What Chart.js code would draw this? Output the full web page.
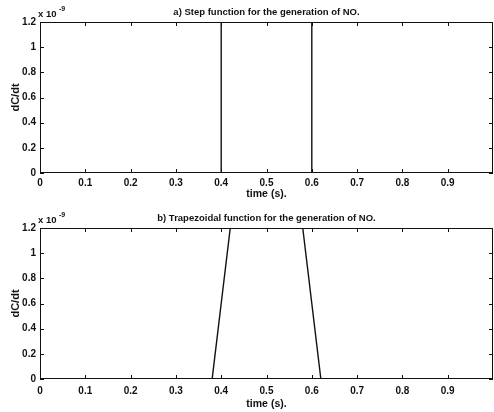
<!DOCTYPE html>
<html>
<head>
<meta charset="utf-8">
<script src="https://cdn.jsdelivr.net/npm/chart.js@4.4.1/dist/chart.umd.min.js"></script>
<style>
  body { margin: 0; background: #fff; }
  .box { position: absolute; left: 0; width: 494px; height: 206px; }
</style>
</head>
<body>
<div class="box" style="top:0"><canvas id="stepChart" width="494" height="206"></canvas></div>
<div class="box" style="top:206px"><canvas id="trapChart" width="494" height="206"></canvas></div>
<script>
// values in units of 1e-9 (the "x 10^-9" factor is printed above the axis)
var timeStep = [0, 0.4, 0.4, 0.6, 0.6, 1.0];
var rateStep = [0, 0, 1.2, 1.2, 0, 0];
var timeTrap = [0, 0.38, 0.42, 0.58, 0.62, 1.0];
var rateTrap = [0, 0, 1.2, 1.2, 0, 0];
var xTickLabels = [0, 0.1, 0.2, 0.3, 0.4, 0.5, 0.6, 0.7, 0.8, 0.9];

var ink = '#111';
var fontFam = '"Liberation Sans", Arial, sans-serif';

// matlab style box with inward ticks, title and exponent text
var boxPlugin = {
  id: 'box',
  afterDraw: function(chart, args, opts) {
    var ctx = chart.ctx, a = chart.chartArea;
    var xs = chart.scales.x, ys = chart.scales.y;
    ctx.save();
    ctx.strokeStyle = ink;
    ctx.lineWidth = 1;
    ctx.strokeRect(a.left + 0.5, a.top + 0.5, a.right - a.left - 1, a.bottom - a.top - 1);
    ctx.beginPath();
    xs.ticks.forEach(function(t) {
      var px = Math.round(xs.getPixelForValue(t.value)) + 0.5;
      ctx.moveTo(px, a.bottom); ctx.lineTo(px, a.bottom - 4);
      ctx.moveTo(px, a.top); ctx.lineTo(px, a.top + 4);
    });
    ys.ticks.forEach(function(t) {
      var py = Math.round(ys.getPixelForValue(t.value)) + 0.5;
      ctx.moveTo(a.left, py); ctx.lineTo(a.left + 4, py);
      ctx.moveTo(a.right, py); ctx.lineTo(a.right - 4, py);
    });
    ctx.stroke();
    ctx.fillStyle = ink;
    ctx.font = 'bold 9.5px ' + fontFam;
    ctx.textAlign = 'center';
    ctx.textBaseline = 'middle';
    ctx.fillText(opts.title, (a.left + a.right) / 2, opts.titleY);
    ctx.textAlign = 'left';
    ctx.fillText('x 10', a.left - 2, a.top - 8);
    ctx.font = 'bold 7px ' + fontFam;
    ctx.fillText('-9', a.left + 19, a.top - 13);
    ctx.restore();
  }
};

function makeChart(id, xs, ys, title, tickPad, axisH, padBottom) {
  var pts = xs.map(function(x, i) { return {x: x, y: ys[i]}; });
  return new Chart(document.getElementById(id), {
    type: 'scatter',
    data: {
      datasets: [{
        data: pts,
        showLine: true,
        borderColor: ink,
        borderWidth: 1.4,
        pointRadius: 0,
        tension: 0
      }]
    },
    plugins: [boxPlugin],
    options: {
      responsive: false,
      animation: false,
      events: [],
      layout: { padding: { top: 22, left: 9, right: 1, bottom: padBottom } },
      plugins: {
        legend: { display: false },
        tooltip: { enabled: false },
        box: { title: title, titleY: 12 }
      },
      scales: {
        x: {
          type: 'linear',
          min: 0, max: 1,
          grid: { display: false, drawTicks: false },
          border: { display: false },
          afterBuildTicks: function(s) {
            s.ticks = xTickLabels.map(function(v) { return {value: v}; });
          },
          afterFit: function(s) { s.height = axisH; },
          ticks: {
            padding: tickPad, maxRotation: 0, autoSkip: false,
            color: ink, font: { family: fontFam, size: 10, weight: 'bold' },
            callback: function(v) { return String(+v.toFixed(1)); }
          },
          title: {
            display: true, text: 'time (s).', color: ink,
            padding: { top: 0, bottom: 0 },
            font: { family: fontFam, size: 10.5, weight: 'bold' }
          }
        },
        y: {
          min: 0, max: 1.2,
          grid: { display: false, drawTicks: false },
          border: { display: false },
          afterFit: function(s) { s.width = 31; },
          ticks: {
            stepSize: 0.2, padding: 4,
            color: ink, font: { family: fontFam, size: 10, weight: 'bold' },
            callback: function(v) { return String(+v.toFixed(1)); }
          },
          title: {
            display: true, text: 'dC/dt', color: ink,
            padding: { top: 0, bottom: 0 },
            font: { family: fontFam, size: 11, weight: 'bold' }
          }
        }
      }
    }
  });
}

makeChart('stepChart', timeStep, rateStep, 'a) Step function for the generation of NO.', 4, 27, 6);
makeChart('trapChart', timeTrap, rateTrap, 'b) Trapezoidal function for the generation of NO.', 6, 31, 2);
</script>
</body>
</html>
